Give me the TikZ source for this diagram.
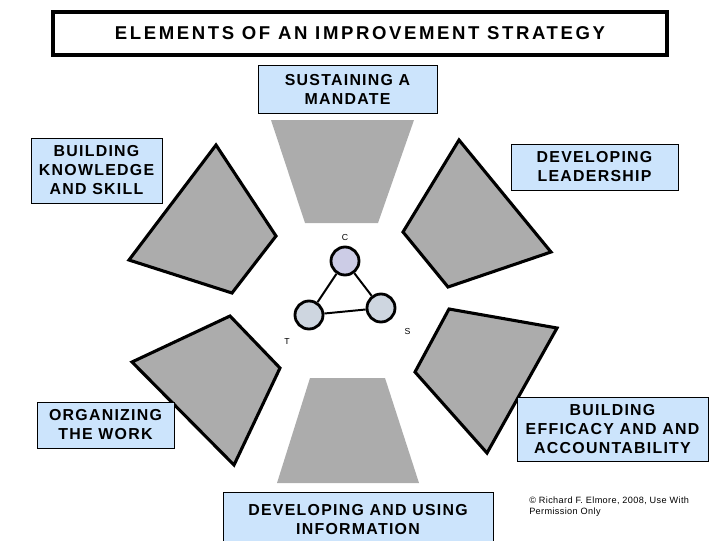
\documentclass[tikz,border=0pt]{standalone}
\usepackage{fontspec}
\usepackage{tikz}

\setmainfont{Liberation Sans}
\newfontfamily\boxfont{Liberation Sans}[LetterSpace=8]
\newfontfamily\headfont{Liberation Sans}[LetterSpace=14]
\newfontfamily\notefont{Liberation Sans}[LetterSpace=4]

\definecolor{boxblue}{RGB}{204,228,252}
\definecolor{granite}{RGB}{172,172,172}
\definecolor{coachc}{RGB}{204,204,230}
\definecolor{coachts}{RGB}{206,214,224}

\begin{document}
\begin{tikzpicture} [x = 0.025cm, y = -0.025cm,
	box/.style = {draw,
		fill = boxblue,
		align = center,
		inner sep = 0pt,
		font = \boxfont\bfseries\fontsize{11.3}{13.5}\selectfont},
	boxsize/.style 2 args = {minimum width = #1*0.025cm, minimum height = #2*0.025cm},
	stone/.style = {fill = granite},
	slab/.style = {stone, draw, line width = 2.2pt},
	ring/.style = {circle,
		draw,
		line width = 2pt,
		minimum size = 28*0.025cm,
		inner sep = 0pt,
		label distance = 0.5mm},
	tag/.style = {font = \fontsize{6.2}{7}\selectfont}]

	\useasboundingbox (0,0) rectangle (720,540);

	% the six pieces
	\path [stone] (271,120) -- (414,120) -- (378,223) -- (305,223) -- cycle;
	\path [stone] (310,378) -- (385,378) -- (419,483) -- (277,483) -- cycle;
	\draw [slab] (216,145) -- (276,236) -- (232,293) -- (129,260) -- cycle;
	\draw [slab] (459,140) -- (551,252) -- (448,287) -- (403,232) -- cycle;
	\draw [slab] (230,316) -- (280,368) -- (234,465) -- (132,362) -- cycle;
	\draw [slab] (449,309) -- (557,328) -- (487,453) -- (415,372) -- cycle;

	\node (title) at (360,33.5) [draw, line width = 2.2pt, boxsize = {614}{43},
		font = \headfont\bfseries\fontsize{13.2}{15}\selectfont] {ELEMENTS OF AN IMPROVEMENT STRATEGY};

	\node (mandate) at (347.5,89) [box, boxsize = {179}{48}] {SUSTAINING A\\MANDATE};
	\node (knowledge) at (96.5,170.5) [box, boxsize = {131}{65}] {BUILDING\\KNOWLEDGE\\AND SKILL};
	\node (leadership) at (594.5,167) [box, boxsize = {167}{46}] {DEVELOPING\\LEADERSHIP};
	\node (work) at (105.5,425) [box, boxsize = {137}{46}] {ORGANIZING\\THE WORK};
	\node (efficacy) at (612.5,429) [box, boxsize = {191}{64}] {BUILDING\\EFFICACY AND AND\\ACCOUNTABILITY};
	\node (information) at (358,520) [box, boxsize = {270}{56}] {DEVELOPING AND USING\\INFORMATION};

	% instructional core
	\node (C) at (345,261) [ring, fill = coachc, label = {[tag]90:C}] {};
	\node (T) at (309,315) [ring, fill = coachts, label = {[tag, label distance = 2mm]232:T}] {};
	\node (S) at (381,308) [ring, fill = coachts, label = {[tag, label distance = 2.2mm]-40:S}] {};

	\draw [line width = 1.4pt] (C) -- (T);
	\draw [line width = 1.4pt] (C) -- (S);
	\draw [line width = 1.4pt] (T) -- (S);

	\node (note) at (529,497) [anchor = north west, align = left, inner sep = 0pt,
		font = \notefont\fontsize{6.5}{7.8}\selectfont] {© Richard F. Elmore, 2008, Use With\\Permission Only};

\end{tikzpicture}
\end{document}
